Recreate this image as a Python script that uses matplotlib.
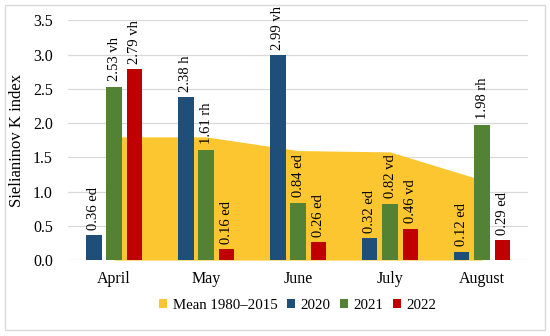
import numpy as np
import matplotlib.pyplot as plt
from matplotlib.patches import Rectangle

months = ['April', 'May', 'June', 'July', 'August']
mean_1980_2015 = [1.80, 1.80, 1.60, 1.58, 1.17]
k2020 = [0.36, 2.38, 2.99, 0.32, 0.12]
k2021 = [2.53, 1.61, 0.84, 0.82, 1.98]
k2022 = [2.79, 0.16, 0.26, 0.46, 0.29]
lab2020 = ['0.36 ed', '2.38 h', '2.99 vh', '0.32 ed', '0.12 ed']
lab2021 = ['2.53 vh', '1.61 rh', '0.84 ed', '0.82 vd', '1.98 rh']
lab2022 = ['2.79 vh', '0.16 ed', '0.26 ed', '0.46 vd', '0.29 ed']

plt.rcParams['font.family'] = ['Liberation Serif', 'DejaVu Serif']

fig = plt.figure(figsize=(5.5, 3.36), dpi=100)
ax = fig.add_axes([0.124, 0.226, 0.836, 0.713])

x = np.arange(len(months))
w = 0.17
off = 0.222

ax.fill_between(x, mean_1980_2015, 0, color='#FCC630', lw=0, zorder=1,
                label='Mean 1980\u20132015')
series = [(k2020, lab2020, '#1F4E79', '2020', -off),
          (k2021, lab2021, '#548235', '2021', 0),
          (k2022, lab2022, '#C00000', '2022', off)]
for vals, labs, col, name, dx in series:
    ax.bar(x + dx, vals, w, color=col, zorder=2, label=name)
    for xi, v, t in zip(x, vals, labs):
        ax.annotate(t, (xi + dx, v), xytext=(0, 4), textcoords='offset points',
                    rotation=90, ha='center', va='bottom', fontsize=10.5,
                    annotation_clip=False)

ax.set_xlim(-0.5, 4.5)
ax.set_ylim(0, 3.5)
ax.set_yticks(np.arange(0, 3.51, 0.5))
ax.set_yticklabels(['%.1f' % v for v in np.arange(0, 3.51, 0.5)], fontsize=11.5)
ax.set_xticks(x)
ax.set_xticklabels(months, fontsize=11.5)
ax.tick_params(length=0, pad=8)
ax.tick_params(axis='y', pad=11)
ax.grid(axis='y', color='#D9D9D9', lw=0.9, zorder=0)
ax.set_axisbelow(True)
for s in ax.spines.values():
    s.set_visible(False)
ax.set_ylabel('Sielianinov K index', fontsize=12, labelpad=6)

ax.legend(loc='upper center', bbox_to_anchor=(0.5, -0.105), ncol=4,
          frameon=False, fontsize=10.7, handlelength=0.5, handleheight=0.5,
          handletextpad=0.4, columnspacing=0.65)

fig.patches.append(Rectangle((5 / 550, 6 / 336), 540 / 550, 325 / 336,
                             transform=fig.transFigure, fill=False,
                             edgecolor='#D9D9D9', lw=1))

fig.savefig('out.png', dpi=100)
